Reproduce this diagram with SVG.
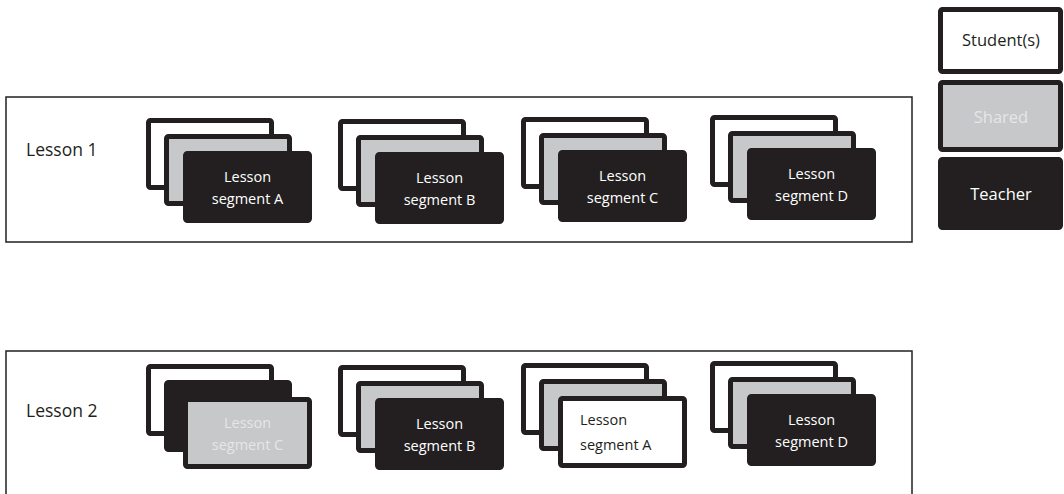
<svg xmlns="http://www.w3.org/2000/svg" width="1064" height="494" viewBox="0 0 1064 494">
<style>
.frame{fill:#fff;stroke:#231f20;stroke-width:1.5}
.w{fill:#fff;stroke:#231f20;stroke-width:5}
.g{fill:#c7c8ca;stroke:#231f20;stroke-width:5}
.k{fill:#231f20;stroke:#231f20;stroke-width:5}
text{font-family:"Open Sans","Liberation Sans",sans-serif}
.lbl{font-size:17.5px;fill:#231f20}
.seg{font-size:14.5px;text-anchor:middle}
.tw{fill:#fff}
.tg{fill:#e6e6e6}
.tk{fill:#231f20}
.leg{font-size:16.5px;text-anchor:middle}
</style>
<rect id="bg" width="1064" height="494" fill="#fff"/>
<g id="lesson1">
<rect class="frame" x="6" y="97" width="906" height="145"/>
<text class="lbl" x="26" y="156">Lesson 1</text>
</g>
<g id="lesson2">
<rect class="frame" x="6" y="351" width="906" height="150"/>
<text class="lbl" x="26" y="417">Lesson 2</text>
</g>
<g id="l1-segA" transform="translate(146,118)">
<rect class="w" x="2.5" y="2.5" width="123" height="67" rx="2"/>
<rect class="g" x="20.5" y="18.5" width="123" height="67" rx="2"/>
<rect class="k" x="39.5" y="35.5" width="124" height="67" rx="2"/>
<text class="seg tw" x="101.5" y="64">Lesson</text>
<text class="seg tw" x="101.5" y="86">segment A</text>
</g>
<g id="l1-segB" transform="translate(338,119)">
<rect class="w" x="2.5" y="2.5" width="123" height="67" rx="2"/>
<rect class="g" x="20.5" y="18.5" width="123" height="67" rx="2"/>
<rect class="k" x="39.5" y="35.5" width="124" height="67" rx="2"/>
<text class="seg tw" x="101.5" y="64">Lesson</text>
<text class="seg tw" x="101.5" y="86">segment B</text>
</g>
<g id="l1-segC" transform="translate(521,117)">
<rect class="w" x="2.5" y="2.5" width="123" height="67" rx="2"/>
<rect class="g" x="20.5" y="18.5" width="123" height="67" rx="2"/>
<rect class="k" x="39.5" y="35.5" width="124" height="67" rx="2"/>
<text class="seg tw" x="101.5" y="64">Lesson</text>
<text class="seg tw" x="101.5" y="86">segment C</text>
</g>
<g id="l1-segD" transform="translate(710,115)">
<rect class="w" x="2.5" y="2.5" width="123" height="67" rx="2"/>
<rect class="g" x="20.5" y="18.5" width="123" height="67" rx="2"/>
<rect class="k" x="39.5" y="35.5" width="124" height="67" rx="2"/>
<text class="seg tw" x="101.5" y="64">Lesson</text>
<text class="seg tw" x="101.5" y="86">segment D</text>
</g>
<g id="l2-segC" transform="translate(146,364)">
<rect class="w" x="2.5" y="2.5" width="123" height="67" rx="2"/>
<rect class="k" x="20.5" y="18.5" width="123" height="67" rx="2"/>
<rect class="g" x="39.5" y="35.5" width="124" height="67" rx="2"/>
<text class="seg tg" x="101.5" y="64">Lesson</text>
<text class="seg tg" x="101.5" y="86">segment C</text>
</g>
<g id="l2-segB" transform="translate(338,365)">
<rect class="w" x="2.5" y="2.5" width="123" height="67" rx="2"/>
<rect class="g" x="20.5" y="18.5" width="123" height="67" rx="2"/>
<rect class="k" x="39.5" y="35.5" width="124" height="67" rx="2"/>
<text class="seg tw" x="101.5" y="64">Lesson</text>
<text class="seg tw" x="101.5" y="86">segment B</text>
</g>
<g id="l2-segA" transform="translate(521,363)">
<rect class="w" x="2.5" y="2.5" width="123" height="67" rx="2"/>
<rect class="g" x="20.5" y="18.5" width="123" height="67" rx="2"/>
<rect class="w" x="39.5" y="35.5" width="124" height="67" rx="2"/>
<text class="tk" font-size="14.5" x="59" y="62">Lesson</text>
<text class="tk" font-size="14.5" x="59" y="87">segment A</text>
</g>
<g id="l2-segD" transform="translate(710,361)">
<rect class="w" x="2.5" y="2.5" width="123" height="67" rx="2"/>
<rect class="g" x="20.5" y="18.5" width="123" height="67" rx="2"/>
<rect class="k" x="39.5" y="35.5" width="124" height="67" rx="2"/>
<text class="seg tw" x="101.5" y="64">Lesson</text>
<text class="seg tw" x="101.5" y="86">segment D</text>
</g>
<g id="legend-student">
<rect class="w" x="940.5" y="9.5" width="120" height="62" rx="2"/>
<text class="leg tk" x="1001" y="46">Student(s)</text>
</g>
<g id="legend-shared">
<rect class="g" x="940.5" y="82.5" width="120" height="67" rx="2"/>
<text class="leg tg" x="1001" y="123">Shared</text>
</g>
<g id="legend-teacher">
<rect class="k" x="940.5" y="159.5" width="120" height="68" rx="2"/>
<text class="leg tw" x="1001" y="200">Teacher</text>
</g>
<g id="connectors"/>
</svg>
